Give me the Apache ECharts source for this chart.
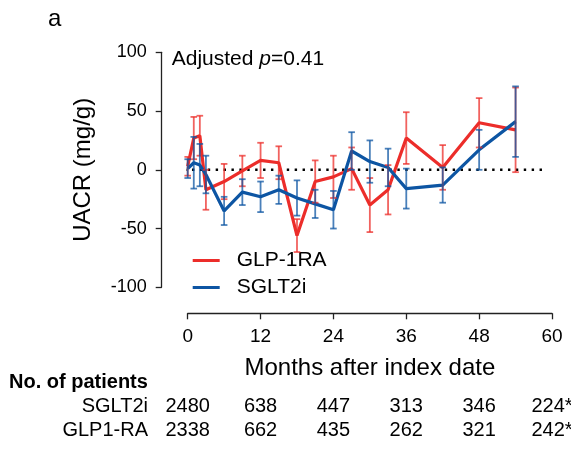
<!DOCTYPE html>
<html><head><meta charset="utf-8">
<script src="https://cdn.jsdelivr.net/npm/echarts@6/dist/echarts.min.js"></script>
<style>html,body{margin:0;padding:0;background:#fff}#c{width:571px;height:450px}</style>
</head><body><div id="c"></div>
<script>
// ---- data ----
const months   = [0, 1, 2, 3, 6, 9, 12, 15, 18, 21, 24, 27, 30, 33, 36, 42, 48, 54];
const glpMean  = [3, 27, 29, -17, -10, -1, 8, 6, -56, -10, -6, 1, -30, -17, 27, 2, 40, 34];
const glpErr   = [8, 18, 17, 17, 15, 13, 15, 14, 14, 18, 18, 18, 23, 21, 22, 19, 21, 36];
const sgltMean = [1, 6, 4, -4, -35, -19, -23, -17, -24, -29, -34, 16, 7, 2, -16, -13, 17, 41];
const sgltErr  = [8, 22, 18, 16, 12, 11, 13, 12, 15, 12, 16, 16, 18, 16, 17, 15, 17, 30];
const xTicks   = [0, 12, 24, 36, 48, 60];
const yTicks   = [-100, -50, 0, 50, 100];
const sgltN    = ['2480', '638', '447', '313', '346', '224*'];
const glpN     = ['2338', '662', '435', '262', '321', '242*'];
const zeroLineX = [-3.2, 58.9];
const pText = 'Adjusted {i|p}=0.41';

const RED = '#EC2D2A', BLUE = '#0D55A3';
const RED_EB = 'rgba(236,45,42,0.75)', BLUE_EB = 'rgba(13,85,163,0.75)';
const FONT = '"Liberation Sans", Arial, sans-serif';

function pairs(xs, ys) { return xs.map((x, i) => [x, ys[i]]); }
function triples(xs, ys, es) { return xs.map((x, i) => [x, ys[i], es[i]]); }
function errRender(color) {
  return function (params, api) {
    const x = api.value(0), m = api.value(1), e = api.value(2);
    const top = api.coord([x, m + e]), bot = api.coord([x, m - e]);
    const w = 3.3;
    const style = { stroke: color, lineWidth: 1.8, fill: null };
    return { type: 'group', children: [
      { type: 'line', shape: { x1: top[0], y1: top[1], x2: bot[0], y2: bot[1] }, style },
      { type: 'line', shape: { x1: top[0] - w, y1: top[1], x2: top[0] + w, y2: top[1] }, style },
      { type: 'line', shape: { x1: bot[0] - w, y1: bot[1], x2: bot[0] + w, y2: bot[1] }, style }
    ]};
  };
}
const tickStep = xTicks[1] - xTicks[0];
function rowAxis(labels, offset) {
  return {
    type: 'value', gridIndex: 0, position: 'bottom', offset: offset,
    min: xTicks[0], max: xTicks[xTicks.length - 1], interval: tickStep,
    axisLine: { show: false, onZero: false }, axisTick: { show: false }, splitLine: { show: false },
    axisLabel: { show: true, margin: 0, fontSize: 20, color: '#000', fontFamily: FONT,
      formatter: v => labels[Math.round((v - xTicks[0]) / tickStep)] }
  };
}

const chart = echarts.init(document.getElementById('c'), null, { renderer: 'canvas' });
chart.setOption({
  animation: false,
  backgroundColor: '#fff',
  grid: { left: 187.7, right: 19, top: 52.3, bottom: 162.7, outerBoundsMode: 'none', containLabel: false },
  xAxis: [
    {
      type: 'value', min: xTicks[0], max: xTicks[xTicks.length - 1], interval: tickStep,
      position: 'bottom', offset: 26,
      name: 'Months after index date', nameLocation: 'middle', nameGap: 43,
      nameTextStyle: { fontSize: 24, color: '#000', fontFamily: FONT },
      axisLine: { show: true, onZero: false, lineStyle: { color: '#222', width: 1.3 } },
      axisTick: { show: true, length: 6, lineStyle: { color: '#222', width: 1.3 } },
      axisLabel: { show: true, margin: 14, fontSize: 19, color: '#000', fontFamily: FONT },
      splitLine: { show: false }
    },
    rowAxis(sgltN, 108.7),
    rowAxis(glpN, 132.7)
  ],
  yAxis: {
    type: 'value', min: yTicks[0], max: yTicks[yTicks.length - 1], interval: yTicks[1] - yTicks[0],
    position: 'left', offset: 26,
    name: 'UACR (mg/g)', nameLocation: 'middle', nameGap: 66,
    nameTextStyle: { fontSize: 24, color: '#000', fontFamily: FONT },
    axisLine: { show: true, onZero: false, lineStyle: { color: '#222', width: 1.3 } },
    axisTick: { show: true, length: 6, lineStyle: { color: '#222', width: 1.3 } },
    axisLabel: { show: true, margin: 15, fontSize: 18, color: '#000', fontFamily: FONT },
    splitLine: { show: false }
  },
  legend: {
    orient: 'vertical', left: 187.7, top: 245, itemGap: 6,
    icon: 'rect', itemWidth: 27, itemHeight: 3,
    data: ['GLP-1RA', 'SGLT2i'],
    textStyle: { fontSize: 21, color: '#000', fontFamily: FONT, padding: [0, 0, 0, 12] }
  },
  series: [
    { name: 'zero', type: 'line', data: zeroLineX.map(x => [x, 0]), clip: false, symbol: 'none', silent: true,
      lineStyle: { color: '#000', width: 2.4, type: [2.4, 5.5] }, z: 1 },
    { name: 'GLP-1RA', type: 'line', data: pairs(months, glpMean), symbol: 'none',
      lineStyle: { color: RED, width: 3.2 }, itemStyle: { color: RED }, z: 3 },
    { name: 'SGLT2i', type: 'line', data: pairs(months, sgltMean), symbol: 'none',
      lineStyle: { color: BLUE, width: 3.2 }, itemStyle: { color: BLUE }, z: 4 },
    { name: 'GLP-1RA err', type: 'custom', data: triples(months, glpMean, glpErr),
      encode: { x: 0, y: 1 }, renderItem: errRender(RED_EB), z: 5, silent: true },
    { name: 'SGLT2i err', type: 'custom', data: triples(months, sgltMean, sgltErr),
      encode: { x: 0, y: 1 }, renderItem: errRender(BLUE_EB), z: 6, silent: true }
  ],
  graphic: [
    { type: 'text', left: 48, top: 7, style: { text: 'a', fontSize: 24, fill: '#000', fontFamily: FONT } },
    { type: 'text', x: 171.7, y: 59, style: { text: pText, fontSize: 21, fill: '#000', fontFamily: FONT,
        verticalAlign: 'middle', rich: { i: { fontStyle: 'italic', fontSize: 21, fontFamily: FONT, fill: '#000' } } } },
    { type: 'text', x: 9, y: 382, style: { text: 'No. of patients', fontSize: 20, fontWeight: 'bold', fill: '#000',
        fontFamily: FONT, verticalAlign: 'middle' } },
    { type: 'text', x: 148, y: 406, style: { text: 'SGLT2i', fontSize: 20, fill: '#000', fontFamily: FONT,
        align: 'right', verticalAlign: 'middle' } },
    { type: 'text', x: 148, y: 430, style: { text: 'GLP1-RA', fontSize: 20, fill: '#000', fontFamily: FONT,
        align: 'right', verticalAlign: 'middle' } }
  ]
});
</script>
</body></html>
